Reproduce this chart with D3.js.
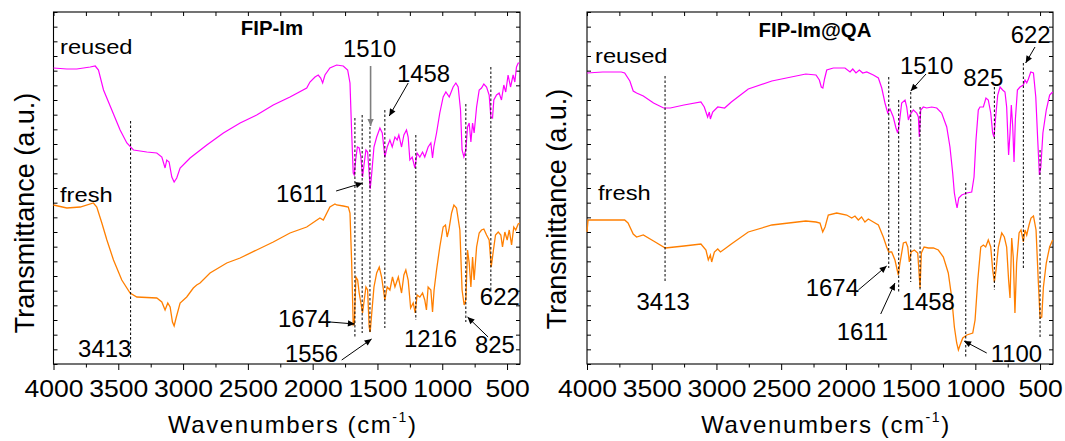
<!DOCTYPE html>
<html>
<head>
<meta charset="utf-8">
<script src="https://cdn.jsdelivr.net/npm/d3@7"></script>
<style>
  body { margin: 0; background: #fff; }
  svg { display: block; }
  text { font-family: "Liberation Sans", Arial, sans-serif; fill: #000; }
</style>
</head>
<body>
<svg width="1065" height="441"></svg>
<script>
// tick labels of the wavenumber axis
const xTickLabels = [4000, 3500, 3000, 2500, 2000, 1500, 1000, 500];
const xMinorTicks = [3750, 3250, 2750, 2250, 1750, 1250, 750];

// spectra: [wavenumber, transmittance a.u.]
const imReused = [
  [4000,296],[3897,295],[3820,295],[3717,297],[3678,298],[3653,294],[3614,274],[3550,254],[3486,234],
  [3434,221],[3383,214],[3280,212],[3203,211],[3164,207],[3139,196],[3126,204],[3108,202],[3087,187],
  [3069,182],[3049,186],[3023,196],[2946,206],[2817,219],[2689,231],[2560,241],[2432,249],[2304,259],
  [2175,267],[2046,276],[2021,282],[1982,287],[1957,289],[1938,286],[1923,281],[1905,289],[1867,296],
  [1815,299],[1764,298],[1730,294],[1712,281],[1699,231],[1687,191],[1679,189],[1668,204],[1655,217],
  [1641,216],[1628,207],[1615,187],[1602,201],[1589,214],[1576,212],[1564,191],[1556,175],[1544,191],
  [1527,217],[1506,227],[1481,236],[1463,231],[1443,207],[1425,217],[1404,224],[1386,217],[1365,227],
  [1348,224],[1335,229],[1314,217],[1296,229],[1276,234],[1263,227],[1250,204],[1232,207],[1211,196],
  [1194,211],[1173,207],[1152,212],[1135,207],[1109,217],[1088,221],[1075,206],[1065,217],[1044,231],
  [1019,251],[993,267],[972,272],[946,267],[916,277],[895,281],[877,277],[859,254],[847,214],[833,207],
  [818,214],[805,237],[792,241],[779,222],[766,241],[754,231],[735,257],[715,274],[697,276],[679,280],
  [658,277],[638,269],[625,247],[612,246],[602,264],[581,269],[561,271],[543,264],[525,279],[510,272],
  [492,289],[473,277],[453,289],[440,282],[427,297],[414,301],[402,301]
];
const imFresh = [
  [4000,159],[3897,156],[3794,157],[3692,161],[3666,157],[3627,141],[3588,124],[3537,104],[3473,84],
  [3409,71],[3357,67],[3203,66],[3164,62],[3139,54],[3118,61],[3100,57],[3082,42],[3069,38],[3054,46],
  [3023,61],[2972,67],[2921,76],[2895,79],[2869,81],[2792,91],[2663,101],[2560,106],[2432,114],
  [2304,122],[2175,131],[2046,137],[1944,146],[1918,144],[1867,157],[1828,160],[1815,159],[1764,158],
  [1725,157],[1712,151],[1699,101],[1687,39],[1679,40],[1666,87],[1653,84],[1641,71],[1628,61],
  [1615,51],[1602,64],[1589,77],[1576,74],[1564,37],[1556,32],[1544,51],[1527,77],[1506,91],[1486,97],
  [1468,87],[1443,64],[1425,77],[1404,74],[1384,87],[1365,77],[1339,87],[1314,71],[1296,89],[1281,94],
  [1263,84],[1244,56],[1224,61],[1209,51],[1194,69],[1173,67],[1152,71],[1135,64],[1122,54],[1109,77],
  [1088,74],[1075,52],[1063,74],[1044,94],[1019,117],[993,137],[975,139],[962,127],[949,134],[928,151],
  [910,159],[890,156],[864,134],[847,74],[831,59],[818,64],[805,114],[792,101],[779,77],[766,107],
  [754,84],[735,117],[715,131],[697,134],[679,135],[658,129],[638,124],[622,97],[607,112],[589,129],
  [568,132],[548,129],[535,117],[517,132],[499,124],[483,134],[465,119],[448,137],[433,134],[414,140],
  [402,141]
];
const qaReused = [
  [4000,291],[3879,292],[3735,292],[3709,291],[3669,283],[3643,273],[3617,271],[3565,268],[3486,261],
  [3408,256],[3356,256],[3251,259],[3120,262],[3094,257],[3081,252],[3068,247],[3055,252],[3047,245],
  [3029,252],[2990,257],[2937,256],[2885,262],[2754,275],[2572,283],[2310,290],[2231,289],[2205,284],
  [2190,277],[2178,276],[2165,285],[2148,294],[2097,296],[2007,296],[1968,292],[1947,295],[1922,291],
  [1896,294],[1870,291],[1839,292],[1788,289],[1749,286],[1723,276],[1698,261],[1677,251],[1659,255],
  [1634,247],[1613,236],[1600,231],[1587,241],[1569,261],[1543,264],[1530,257],[1517,244],[1505,249],
  [1479,254],[1453,251],[1440,247],[1433,227],[1422,254],[1402,257],[1376,256],[1337,257],[1298,256],
  [1260,251],[1221,237],[1196,217],[1175,191],[1162,171],[1149,161],[1141,156],[1128,166],[1105,169],
  [1066,171],[1028,172],[1010,187],[995,224],[977,254],[964,257],[938,257],[918,266],[900,264],
  [881,251],[866,231],[856,227],[843,247],[827,269],[809,277],[789,274],[771,272],[758,257],[743,209],
  [732,231],[722,259],[711,237],[701,202],[691,244],[675,274],[655,277],[629,279],[616,284],[603,281],
  [590,285],[572,292],[551,291],[533,267],[518,224],[505,189],[494,197],[478,231],[452,254],[426,269],
  [403,272]
];
const qaFresh = [
  [4000,132],[3992,144],[3879,144],[3709,144],[3683,141],[3643,130],[3617,127],[3565,129],[3486,123],
  [3395,116],[3251,118],[3120,120],[3081,114],[3063,104],[3047,109],[3037,102],[3016,112],[2990,115],
  [2969,112],[2937,115],[2885,120],[2754,132],[2572,139],[2310,143],[2231,142],[2200,141],[2179,132],
  [2161,137],[2136,149],[2071,151],[1994,149],[1955,146],[1930,148],[1904,144],[1879,147],[1853,142],
  [1827,145],[1788,142],[1749,139],[1711,127],[1685,117],[1669,112],[1646,112],[1621,104],[1595,89],
  [1582,101],[1556,121],[1536,122],[1522,117],[1510,102],[1496,112],[1471,114],[1445,111],[1427,76],
  [1417,111],[1396,117],[1363,116],[1324,116],[1286,114],[1247,107],[1209,91],[1183,67],[1162,37],
  [1144,21],[1131,14],[1118,19],[1097,26],[1066,29],[1020,31],[1002,44],[981,84],[958,117],[938,119],
  [920,117],[900,124],[881,117],[866,94],[853,82],[840,94],[822,117],[796,131],[776,127],[758,117],
  [743,84],[732,66],[719,126],[707,107],[694,51],[681,101],[662,131],[647,134],[629,122],[616,134],
  [603,129],[585,139],[570,146],[551,148],[531,134],[513,81],[500,46],[487,47],[474,77],[452,101],
  [426,117],[403,124]
];

// dashed peak markers: [wavenumber, top, bottom]
const imMarks = [[3405,243,5],[1674,246,27],[1618,249,31],[1558,237,31],[1443,254,36],[1204,229,44],[818,260,42],[625,297,74]];
const qaMarks = [[3397,288,83],[1669,287,96],[1592,264,72],[1499,272,82],[1427,257,74],[1074,181,6],[853,277,74],[629,301,94],[500,214,26]];

// peak labels: [text, wavenumber, a.u.]
const imNotes = [["3413",3810,7],["1510",1766,307],["1458",1350,282],["1611",2283,162],["1674",2268,37],
                 ["1556",2214,2.5],["1216",1296,17],["825",748,11],["622",710,59]];
const qaNotes = [["3413",3617,54],["1674",2310,68],["1611",2071,24],["1458",1569,54],["1100",881,2.5],
                 ["1510",1582,290],["825",1093,278],["622",727,321]];

// arrows: [wnFrom, tFrom, wnTo, tTo, grey]
const imArrows = [[1819,173,1614,181],[1553,298,1553,238,true],[1263,281,1409,248],[1866,42,1674,40],[1776,4,1545,25],[646,27,805,47]];
const qaArrows = [[1904,74,1685,98],[1731,50,1621,81],[912,11,1087,23],[1381,290,1499,273],[539,317,611,301]];

const panels = [
  { title: "FIP-Im", reused: imReused, fresh: imFresh, marks: imMarks, notes: imNotes, arrows: imArrows,
    left: 53.5, right: 520, titleX: 272, titleY: 35, yTitleX: 34, yTitleY: 213,
    reusedPos: [60, 54], freshPos: [60, 201.5] },
  { title: "FIP-Im@QA", reused: qaReused, fresh: qaFresh, marks: qaMarks, notes: qaNotes, arrows: qaArrows,
    left: 587, right: 1053, titleX: 815, titleY: 37, yTitleX: 566, yTitleY: 209,
    reusedPos: [595, 63], freshPos: [598, 200] }
];

const plotTop = 12, plotBottom = 364;
const svg = d3.select("svg");

const defs = svg.append("defs");
[["ah", "#000"], ["ahg", "#7f7f7f"]].forEach(([id, c]) => {
  defs.append("marker").attr("id", id)
      .attr("viewBox", "0 0 10 10").attr("refX", 10).attr("refY", 5)
      .attr("markerWidth", 8).attr("markerHeight", 7)
      .attr("markerUnits", "userSpaceOnUse").attr("orient", "auto")
      .append("path").attr("d", "M0,0.5 L10,5 L0,9.5 Z").attr("fill", c);
});

function txt(g, x, y, s, size, sx, anchor, bold) {
  return g.append("text")
          .attr("transform", `translate(${x},${y}) scale(${sx},1)`)
          .attr("font-size", size)
          .attr("text-anchor", anchor || "start")
          .attr("font-weight", bold ? "bold" : null)
          .text(s);
}

panels.forEach(p => {
  const x = d3.scaleLinear().domain([4000, 400]).range([p.left, p.right]);
  const y = d3.scaleLinear().domain([0, 352]).range([plotBottom, plotTop]);
  const yTicks = d3.range(0, 25).map(i => i * 352 / 24);
  const g = svg.append("g");

  // axes
  g.append("g").attr("transform", `translate(0,${plotBottom})`)
   .call(d3.axisBottom(x).tickValues(xTickLabels).tickSize(6).tickPadding(10).tickFormat(d3.format("d")))
   .call(a => a.select(".domain").remove())
   .call(a => a.selectAll("text").attr("font-size", 23.5).attr("font-family", null).attr("transform", "scale(1.13,1)"));
  g.append("g").attr("transform", `translate(0,${plotBottom})`)
   .call(d3.axisBottom(x).tickValues(xMinorTicks).tickSize(3.5).tickFormat(""))
   .call(a => a.select(".domain").remove());
  g.append("g").attr("transform", `translate(0,${plotTop})`)
   .call(d3.axisTop(x).tickValues(xTickLabels.concat(xMinorTicks)).tickSize(-4).tickFormat(""))
   .call(a => a.select(".domain").remove());
  g.append("g").attr("transform", `translate(${p.left},0)`)
   .call(d3.axisLeft(y).tickValues(yTicks).tickSize(-4).tickFormat(""))
   .call(a => a.select(".domain").remove());
  g.append("g").attr("transform", `translate(${p.right},0)`)
   .call(d3.axisRight(y).tickValues(yTicks).tickSize(-4).tickFormat(""))
   .call(a => a.select(".domain").remove());

  g.append("rect").attr("x", p.left).attr("y", plotTop)
   .attr("width", p.right - p.left).attr("height", plotBottom - plotTop)
   .attr("fill", "none").attr("stroke", "#000").attr("stroke-width", 1.1);

  // spectra
  const line = d3.line().x(d => x(d[0])).y(d => y(d[1]));
  g.append("path").datum(p.reused).attr("d", line)
   .attr("fill", "none").attr("stroke", "#ff00ff").attr("stroke-width", 1.2);
  g.append("path").datum(p.fresh).attr("d", line)
   .attr("fill", "none").attr("stroke", "#ff7f00").attr("stroke-width", 1.3);

  // dashed markers
  g.selectAll(".mark").data(p.marks).enter().append("line")
   .attr("x1", d => x(d[0])).attr("x2", d => x(d[0]))
   .attr("y1", d => y(d[1])).attr("y2", d => y(d[2]))
   .attr("stroke", "#000").attr("stroke-width", 1).attr("stroke-dasharray", "2.5,2");

  // arrows
  g.selectAll(".arrow").data(p.arrows).enter().append("line")
   .attr("x1", d => x(d[0])).attr("y1", d => y(d[1]))
   .attr("x2", d => x(d[2])).attr("y2", d => y(d[3]))
   .attr("stroke", d => d[4] ? "#7f7f7f" : "#000")
   .attr("stroke-width", d => d[4] ? 1.6 : 1)
   .attr("marker-end", d => d[4] ? "url(#ahg)" : "url(#ah)");

  // peak labels
  p.notes.forEach(n => txt(g, x(n[1]), y(n[2]), n[0], 23, 1.04));

  // series labels and title
  txt(g, p.reusedPos[0], p.reusedPos[1], "reused", 21, 1.13);
  txt(g, p.freshPos[0], p.freshPos[1], "fresh", 21, 1.13);
  txt(g, p.titleX, p.titleY, p.title, 20, 1.02, "middle", true);

  // axis titles
  const xt = g.append("text")
    .attr("x", (p.left + p.right) / 2 + 6).attr("y", 433)
    .attr("text-anchor", "middle").attr("font-size", 24).attr("letter-spacing", 1.6);
  xt.append("tspan").text("Wavenumbers (cm");
  xt.append("tspan").attr("font-size", 14).attr("dy", -11).text("-1");
  xt.append("tspan").attr("dy", 11).text(")");

  g.append("text")
   .attr("transform", `translate(${p.yTitleX},${p.yTitleY}) rotate(-90)`)
   .attr("text-anchor", "middle").attr("font-size", 27)
   .text("Transmittance (a.u.)");
});
</script>
</body>
</html>
